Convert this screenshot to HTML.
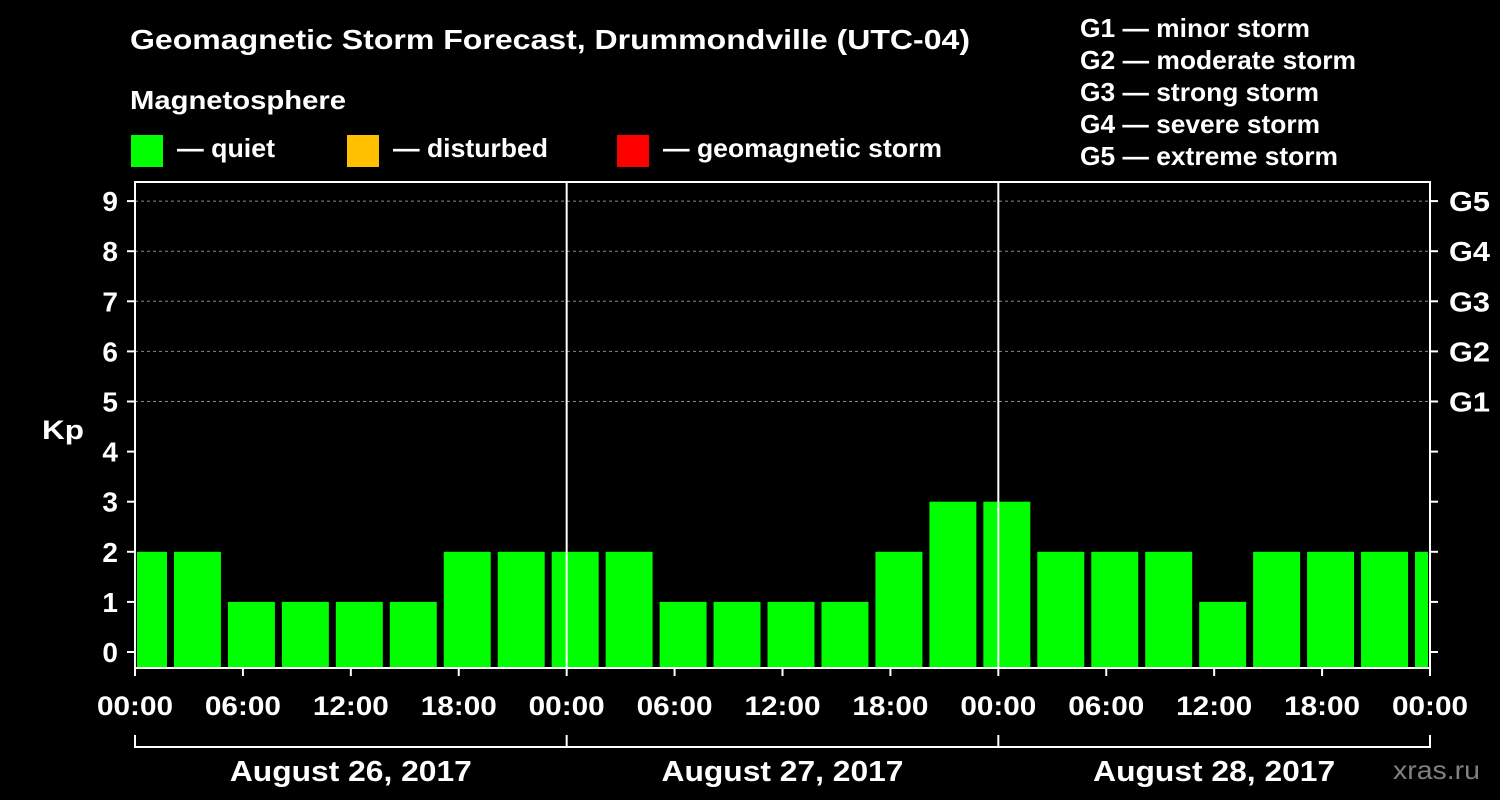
<!DOCTYPE html>
<html><head><meta charset="utf-8"><style>
html,body{margin:0;padding:0;background:#000;}
svg{display:block;font-family:"Liberation Sans",Arial,sans-serif;font-weight:bold;}
</style></head><body>
<svg id="chart" width="1500" height="800" viewBox="0 0 1500 800">
<rect width="1500" height="800" fill="#000"/>
<text x="130" y="49" fill="#fff" font-size="28" textLength="840" lengthAdjust="spacingAndGlyphs">Geomagnetic Storm Forecast, Drummondville (UTC-04)</text>
<text x="130" y="109" fill="#fff" font-size="26" textLength="216" lengthAdjust="spacingAndGlyphs">Magnetosphere</text>
<g><rect x="131" y="135" width="32" height="32" fill="#00ff00"/><text x="177" y="157" fill="#fff" font-size="26" textLength="98" lengthAdjust="spacingAndGlyphs">— quiet</text></g>
<g><rect x="347" y="135" width="32" height="32" fill="#ffc000"/><text x="393" y="157" fill="#fff" font-size="26" textLength="155" lengthAdjust="spacingAndGlyphs">— disturbed</text></g>
<g><rect x="617" y="135" width="32" height="32" fill="#ff0000"/><text x="663" y="157" fill="#fff" font-size="26" textLength="279" lengthAdjust="spacingAndGlyphs">— geomagnetic storm</text></g>
<g fill="#fff" font-size="26">
<text x="1080" y="37" textLength="230" lengthAdjust="spacingAndGlyphs">G1 — minor storm</text>
<text x="1080" y="69" textLength="276" lengthAdjust="spacingAndGlyphs">G2 — moderate storm</text>
<text x="1080" y="101" textLength="239" lengthAdjust="spacingAndGlyphs">G3 — strong storm</text>
<text x="1080" y="133" textLength="240" lengthAdjust="spacingAndGlyphs">G4 — severe storm</text>
<text x="1080" y="165" textLength="258" lengthAdjust="spacingAndGlyphs">G5 — extreme storm</text>
</g>
<g id="grid"></g>
<g id="bars"></g>
<g id="axes"></g>
<text x="42" y="439" fill="#fff" font-size="27" textLength="42" lengthAdjust="spacingAndGlyphs">Kp</text>
<text x="1393" y="779" fill="#808080" font-size="26" font-weight="normal" textLength="87" lengthAdjust="spacingAndGlyphs">xras.ru</text>
</svg>
<script>
const kpValues = [2,2,1,1,1,1,2,2,2,2,1,1,1,1,2,3,3,2,2,2,1,2,2,2,2];
const yTicks = [0,1,2,3,4,5,6,7,8,9];
const gLabels = ["G1","G2","G3","G4","G5"];
const xTickLabels = ["00:00","06:00","12:00","18:00","00:00","06:00","12:00","18:00","00:00","06:00","12:00","18:00","00:00"];
const dayLabels = ["August 26, 2017","August 27, 2017","August 28, 2017"];

const NS="http://www.w3.org/2000/svg";
const L=135,R=1430,T=182,B=668;
const y=v=>652-50.1*v;
const hourPx=(R-L)/72;
const x=h=>L+h*hourPx;
function mk(tag,attrs,parent,txt){const e=document.createElementNS(NS,tag);for(const k in attrs)e.setAttribute(k,attrs[k]);if(txt!==undefined)e.textContent=txt;parent.appendChild(e);return e;}
const grid=document.getElementById('grid'),bars=document.getElementById('bars'),axes=document.getElementById('axes');
for(let v=5;v<=9;v++){
  const g=mk('line',{x1:L,x2:R,y1:y(v),y2:y(v),stroke:'#888','stroke-dasharray':'3,3','stroke-width':1},grid);
  
  
}
const barW=hourPx*3-7;
kpValues.forEach((v,i)=>{
  const cx=x(i*3)+8.5;
  let x0=cx-barW/2,x1=cx+barW/2;
  x0=Math.max(x0,L+2);x1=Math.min(x1,R-2);
  const r=mk('rect',{x:x0,y:y(v),width:x1-x0,height:B-y(v),fill:v>=5?'#ff0000':(v>=4?'#ffc000':'#00ff00')},bars);
  
  
});
const frame=mk('rect',{x:L,y:T,width:R-L,height:B-T,fill:'none',stroke:'#fff','stroke-width':2},axes);


[1,2].forEach(d=>{
  const l=mk('line',{x1:x(d*24),x2:x(d*24),y1:T,y2:B,stroke:'#fff','stroke-width':2},axes);
  
  
});
yTicks.forEach(v=>{
  mk('line',{x1:L-8,x2:L,y1:y(v),y2:y(v),stroke:'#fff','stroke-width':2},axes);
  mk('line',{x1:R,x2:R+8,y1:y(v),y2:y(v),stroke:'#fff','stroke-width':2},axes);
  const t=mk('text',{x:L-17,y:y(v)+10,fill:'#fff','font-size':28,'text-anchor':'end'},axes,String(v));
  
  
});
gLabels.forEach((g,i)=>{
  const t=mk('text',{x:R+19,y:y(i+5)+10,fill:'#fff','font-size':28,textLength:41,lengthAdjust:'spacingAndGlyphs'},axes,g);
  
  
});
xTickLabels.forEach((s,i)=>{
  const xx=x(i*6);
  mk('line',{x1:xx,x2:xx,y1:B,y2:B+8,stroke:'#fff','stroke-width':2},axes);
  const t=mk('text',{x:xx-38,y:715,fill:'#fff','font-size':27,textLength:76,lengthAdjust:'spacingAndGlyphs'},axes,s);
  
  
});
mk('line',{x1:L,x2:R,y1:747,y2:747,stroke:'#fff','stroke-width':2},axes);
for(let d=0;d<=3;d++)mk('line',{x1:x(d*24),x2:x(d*24),y1:735,y2:748,stroke:'#fff','stroke-width':2},axes);
dayLabels.forEach((s,i)=>{
  const t=mk('text',{x:x(i*24+12)-121,y:781,fill:'#fff','font-size':29,textLength:242,lengthAdjust:'spacingAndGlyphs'},axes,s);
  
  
});
</script>
</body></html>
